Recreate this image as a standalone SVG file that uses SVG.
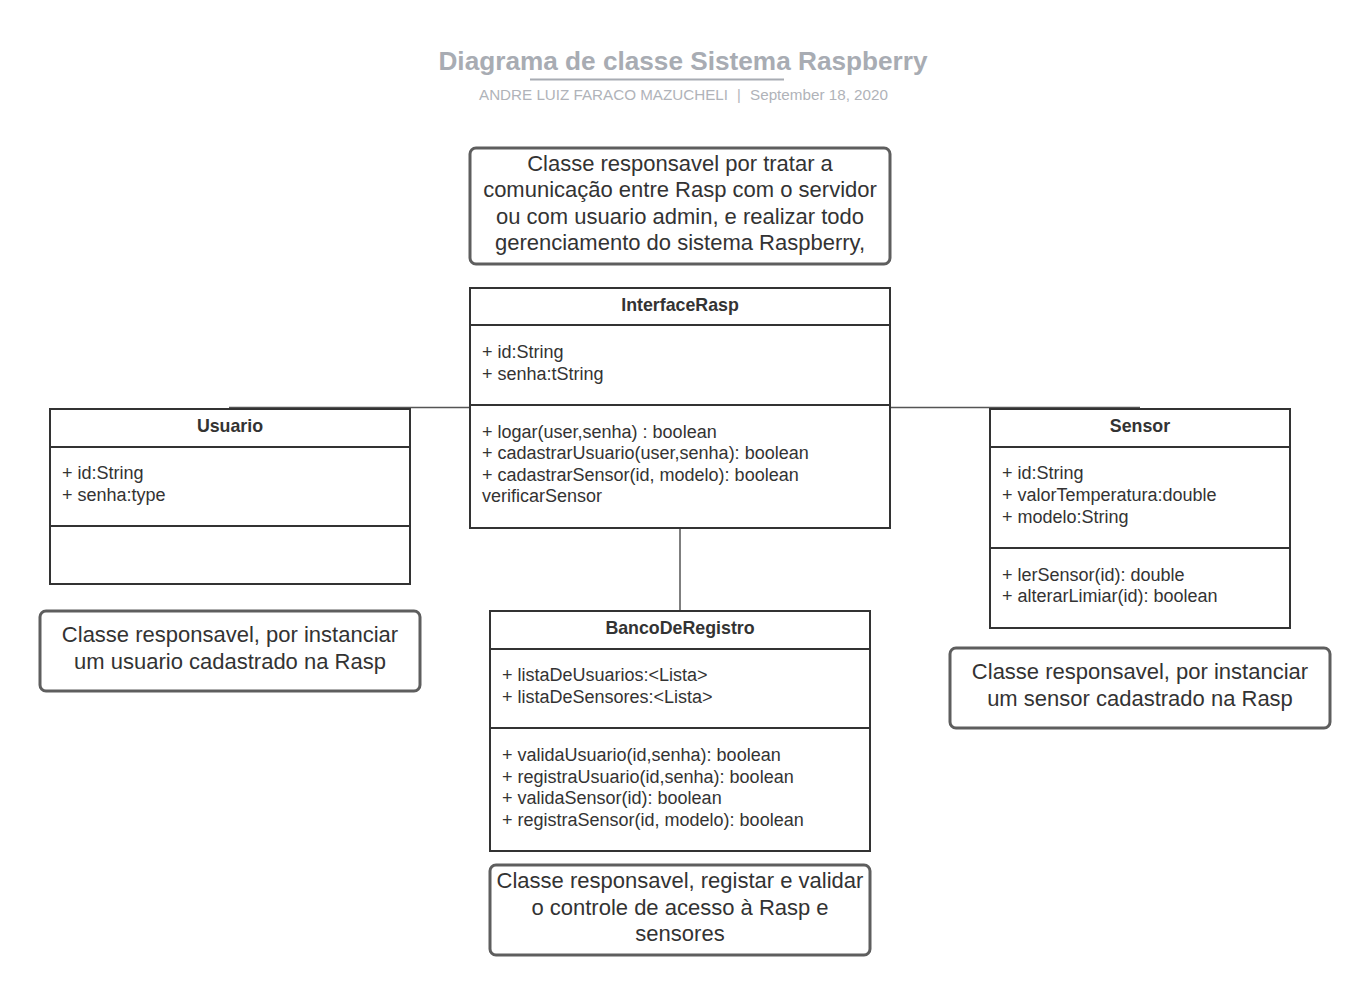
<svg xmlns="http://www.w3.org/2000/svg" width="1370" height="995" viewBox="0 0 1370 995">
<style>
text{font-family:"Liberation Sans",Arial,sans-serif;fill:#333}
.cls{fill:#fff;stroke:#333;stroke-width:2}
.sep{stroke:#333;stroke-width:2}
.name{font-size:17.8px;font-weight:bold;text-anchor:middle}
.mem{font-size:18px}
.note{fill:#fff;stroke:#5e5e5e;stroke-width:3}
.nt{font-size:22px;text-anchor:middle}
.conn{stroke:#555;stroke-width:1.5;fill:none}
.sub{font-size:14.5px;fill:#b0b3b9}
</style>
<rect width="1370" height="995" fill="#fff"/>
<g id="title">
<text x="683" y="70" style="font-size:26.2px;font-weight:bold;fill:#a8acb3;text-anchor:middle">Diagrama de classe Sistema Raspberry</text>
<line x1="530" y1="79.5" x2="784" y2="79.5" stroke="#a8acb3" stroke-width="2"/>
<text class="sub" x="479" y="100" textLength="249" lengthAdjust="spacingAndGlyphs">ANDRE LUIZ FARACO MAZUCHELI</text>
<text class="sub" x="739" y="100" text-anchor="middle">|</text>
<text class="sub" x="750" y="100" textLength="138" lengthAdjust="spacingAndGlyphs">September 18, 2020</text>
</g>
<g id="connectors">
<line class="conn" x1="229" y1="407.5" x2="470" y2="407.5"/>
<line class="conn" x1="890" y1="407.5" x2="1140" y2="407.5"/>
<line class="conn" x1="680" y1="528" x2="680" y2="611"/>
</g>
<g id="note-interface">
<rect class="note" x="470" y="148" width="420" height="116" rx="6"/>
<text class="nt" x="680" y="171">Classe responsavel por tratar a</text>
<text class="nt" x="680" y="197">comunicação entre Rasp com o servidor</text>
<text class="nt" x="680" y="224">ou com usuario admin, e realizar todo</text>
<text class="nt" x="680" y="250">gerenciamento do sistema Raspberry,</text>
</g>
<g id="InterfaceRasp">
<rect class="cls" x="470" y="288" width="420" height="240"/>
<line class="sep" x1="470" y1="325" x2="890" y2="325"/>
<line class="sep" x1="470" y1="405" x2="890" y2="405"/>
<text class="name" x="680" y="311">InterfaceRasp</text>
<text class="mem" x="482" y="358">+ id:String</text>
<text class="mem" x="482" y="380">+ senha:tString</text>
<text class="mem" x="482" y="438">+ logar(user,senha) : boolean</text>
<text class="mem" x="482" y="459">+ cadastrarUsuario(user,senha): boolean</text>
<text class="mem" x="482" y="481">+ cadastrarSensor(id, modelo): boolean</text>
<text class="mem" x="482" y="502">verificarSensor</text>
</g>
<g id="Usuario">
<rect class="cls" x="50" y="409" width="360" height="175"/>
<line class="sep" x1="50" y1="447" x2="410" y2="447"/>
<line class="sep" x1="50" y1="526" x2="410" y2="526"/>
<text class="name" x="230" y="432">Usuario</text>
<text class="mem" x="62" y="479">+ id:String</text>
<text class="mem" x="62" y="501">+ senha:type</text>
</g>
<g id="Sensor">
<rect class="cls" x="990" y="409" width="300" height="219"/>
<line class="sep" x1="990" y1="447" x2="1290" y2="447"/>
<line class="sep" x1="990" y1="548" x2="1290" y2="548"/>
<text class="name" x="1140" y="432">Sensor</text>
<text class="mem" x="1002" y="479">+ id:String</text>
<text class="mem" x="1002" y="501">+ valorTemperatura:double</text>
<text class="mem" x="1002" y="523">+ modelo:String</text>
<text class="mem" x="1002" y="581">+ lerSensor(id): double</text>
<text class="mem" x="1002" y="602">+ alterarLimiar(id): boolean</text>
</g>
<g id="BancoDeRegistro">
<rect class="cls" x="490" y="611" width="380" height="240"/>
<line class="sep" x1="490" y1="649" x2="870" y2="649"/>
<line class="sep" x1="490" y1="728" x2="870" y2="728"/>
<text class="name" x="680" y="634">BancoDeRegistro</text>
<text class="mem" x="502" y="681">+ listaDeUsuarios:&lt;Lista&gt;</text>
<text class="mem" x="502" y="703">+ listaDeSensores:&lt;Lista&gt;</text>
<text class="mem" x="502" y="761">+ validaUsuario(id,senha): boolean</text>
<text class="mem" x="502" y="783">+ registraUsuario(id,senha): boolean</text>
<text class="mem" x="502" y="804">+ validaSensor(id): boolean</text>
<text class="mem" x="502" y="826">+ registraSensor(id, modelo): boolean</text>
</g>
<g id="note-usuario">
<rect class="note" x="40" y="611" width="380" height="80" rx="6"/>
<text class="nt" x="230" y="642">Classe responsavel, por instanciar</text>
<text class="nt" x="230" y="669">um usuario cadastrado na Rasp</text>
</g>
<g id="note-sensor">
<rect class="note" x="950" y="648" width="380" height="80" rx="6"/>
<text class="nt" x="1140" y="679">Classe responsavel, por instanciar</text>
<text class="nt" x="1140" y="706">um sensor cadastrado na Rasp</text>
</g>
<g id="note-banco">
<rect class="note" x="490" y="865" width="380" height="90" rx="6"/>
<text class="nt" x="680" y="888">Classe responsavel, registar e validar</text>
<text class="nt" x="680" y="915">o controle de acesso à Rasp e</text>
<text class="nt" x="680" y="941">sensores</text>
</g>
</svg>
